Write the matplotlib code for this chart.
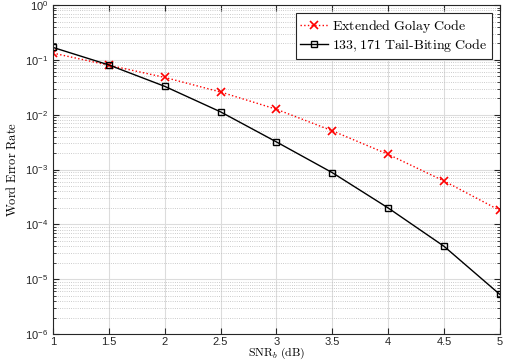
import matplotlib
matplotlib.use('Agg')
import matplotlib.pyplot as plt
from matplotlib.ticker import LogLocator, NullFormatter

# Datos
snr = [1, 1.5, 2, 2.5, 3, 3.5, 4, 4.5, 5]
wer_golay = [0.133, 0.080, 0.048, 0.026, 0.0126, 0.0051, 0.0019, 6.2e-4, 1.8e-4]
wer_tb = [0.169, 0.081, 0.033, 0.0113, 0.0032, 8.8e-4, 2.0e-4, 4.0e-5, 5.3e-6]
xticks = [1, 1.5, 2, 2.5, 3, 3.5, 4, 4.5, 5]
xtick_labels = ['1', '1.5', '2', '2.5', '3', '3.5', '4', '4.5', '5']

plt.rcParams['mathtext.fontset'] = 'cm'
plt.rcParams['font.family'] = ['Liberation Sans', 'DejaVu Sans']

fig = plt.figure(figsize=(5.09, 3.62), dpi=100)
ax = fig.add_axes([0.104, 0.077, 0.878, 0.909])

ax.semilogy(snr, wer_golay, linestyle=':', color='red', marker='x',
            markersize=5.5, markeredgewidth=1.2, linewidth=1,
            label=r'$\mathrm{Extended\ Golay\ Code}$')
ax.semilogy(snr, wer_tb, linestyle='-', color='black', marker='s',
            markerfacecolor='none', markersize=5, linewidth=1,
            label=r'$\mathrm{133,171\ Tail\text{-}Biting\ Code}$')

ax.set_xlim(1, 5)
ax.set_ylim(1e-6, 1)
ax.set_xticks(xticks)
ax.set_xticklabels(xtick_labels)
ax.yaxis.set_major_locator(LogLocator(base=10, numticks=10))
ax.yaxis.set_minor_locator(LogLocator(base=10, subs=range(2, 10), numticks=10))
ax.yaxis.set_minor_formatter(NullFormatter())

ax.grid(True, which='major', color='#dcdcdc', linestyle='-', linewidth=0.8)
ax.grid(True, which='minor', axis='y', color='#bbbbbb', linestyle=':', linewidth=0.6)
ax.set_axisbelow(True)

ax.tick_params(which='both', direction='in', top=True, right=True,
               labelsize=8, colors='#262626')
ax.tick_params(axis='x', pad=2)
ax.tick_params(which='major', length=4)
ax.tick_params(which='minor', length=2)
for s in ax.spines.values():
    s.set_color('#262626')
    s.set_linewidth(0.8)

ax.set_xlabel(r'$\mathrm{SNR}_b\ \mathrm{(dB)}$', fontsize=8.5, labelpad=-1)
ax.set_ylabel(r'$\mathrm{Word\ Error\ Rate}$', fontsize=9, labelpad=4)

leg = ax.legend(loc='upper right', fontsize=10, fancybox=False,
                edgecolor='#262626', framealpha=1, borderaxespad=0.6,
                handlelength=2.0, borderpad=0.3, labelspacing=0.2,
                handletextpad=0.3)
leg.get_frame().set_linewidth(0.8)

plt.savefig('out.png', dpi=100)
